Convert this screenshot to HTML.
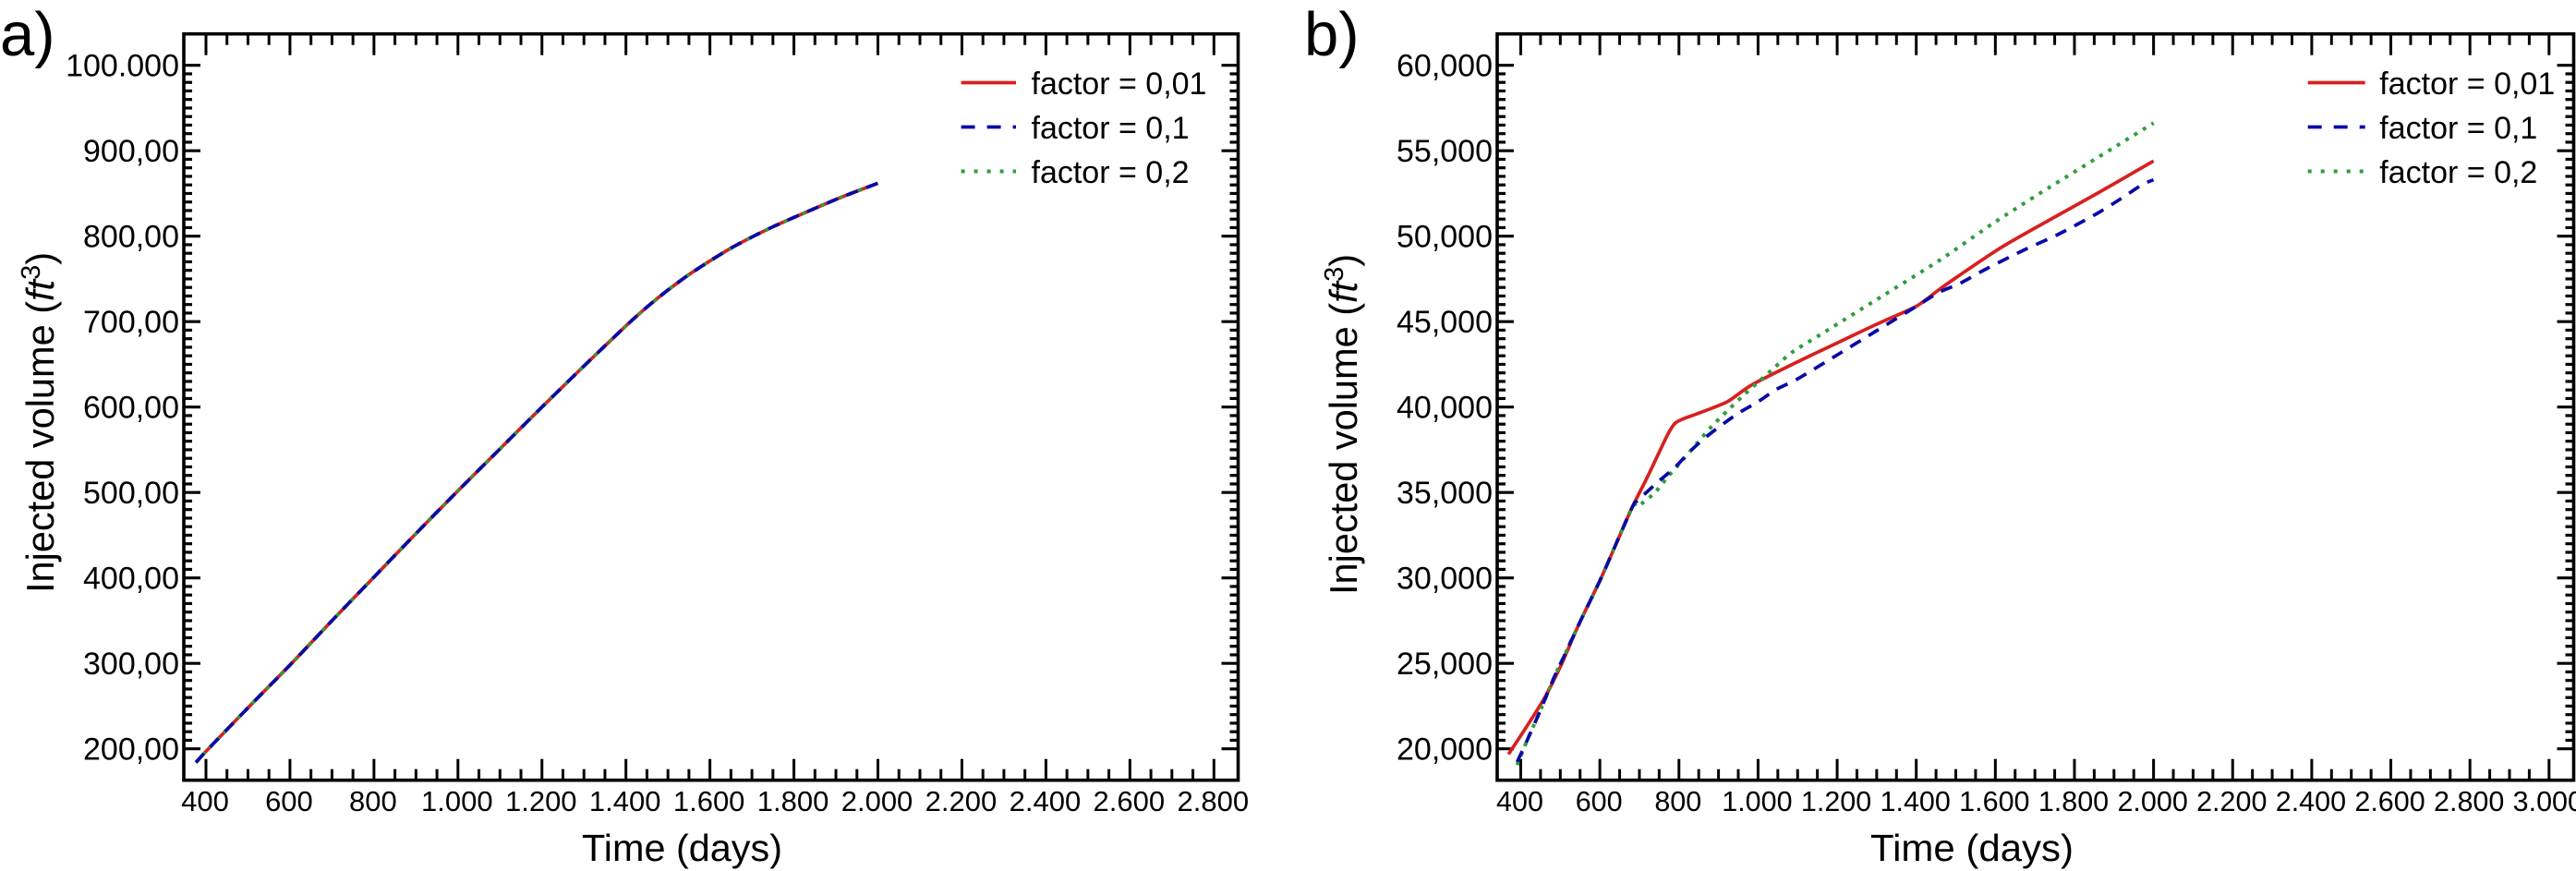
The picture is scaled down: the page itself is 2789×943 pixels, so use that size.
<!DOCTYPE html>
<html lang="en">
<head>
<meta charset="utf-8">
<title>Injected volume vs time</title>
<style>
html,body{margin:0;padding:0;background:#fff;width:2789px;height:943px;overflow:hidden}
svg{display:block}
text{font-family:"Liberation Sans",Arial,sans-serif;fill:#000}
</style>
</head>
<body>
<svg id="figure" xmlns="http://www.w3.org/2000/svg" width="2789" height="943" viewBox="0 0 2789 943"></svg>
<script>
// ---- shared axis data
const seriesNames = ["factor = 0,01", "factor = 0,1", "factor = 0,2"];
const xTickValuesA = [400,600,800,1000,1200,1400,1600,1800,2000,2200,2400,2600,2800];
const xTickLabelsA = ["400","600","800","1.000","1.200","1.400","1.600","1.800","2.000","2.200","2.400","2.600","2.800"];
const yTickValuesA = [200,300,400,500,600,700,800,900,1000];
const yTickLabelsA = ["200,00","300,00","400,00","500,00","600,00","700,00","800,00","900,00","100.000"];
const xTickValuesB = [400,600,800,1000,1200,1400,1600,1800,2000,2200,2400,2600,2800,3000];
const xTickLabelsB = ["400","600","800","1.000","1.200","1.400","1.600","1.800","2.000","2.200","2.400","2.600","2.800","3.000"];
const yTickValuesB = [20000,25000,30000,35000,40000,45000,50000,55000,60000];
const yTickLabelsB = ["20,000","25,000","30,000","35,000","40,000","45,000","50,000","55,000","60,000"];

// ---- panel a values (the three factors overlap)
const timeA = [376,400,500,600,700,800,900,1000,1100,1200,1300,1400,1450,1500,1550,1600,1650,1700,1750,1800,1900,2000];
const volumeA001 = [184,197,248,298,350,401,452,502,551,600,648,695,717,737,755,771,786,799,811,822,843,862];
const volumeA01 = [184,197,248,298,350,401,452,502,551,600,648,695,717,737,755,771,786,799,811,822,843,862];
const volumeA02 = [184,197,248,298,350,401,452,502,551,600,648,695,717,737,755,771,786,799,811,822,843,862];

// ---- panel b values
const timeB001 = [369,420,463,502,548,595,611,681,720,770,790,815,844,922,984,1109,1200,1300,1400,1459,1500,1626,1855,2000];
const volumeB001 = [19680,21480,23100,24900,27340,29590,30400,34090,35890,38320,39050,39350,39590,40310,41300,42750,43750,44850,45900,46900,47560,49500,52470,54400];
const timeB01 = [391,416,447,486,505,548,595,611,681,696,747,790,829,868,914,953,1000,1046,1101,1200,1300,1400,1459,1511,1574,1668,1761,1855,1918,1970,2000];
const volumeB01 = [19230,20490,22110,24270,25200,27340,29590,30400,34090,34540,35620,36470,37430,38240,39050,39680,40310,41030,41660,43050,44470,45890,46730,47240,48050,49140,50130,51300,52200,53000,53300];
const timeB02 = [391,416,447,486,505,548,595,611,681,696,739,774,811,847,883,922,961,1002,1043,1085,1150,1300,1459,1598,1735,2000];
const volumeB02 = [19050,20490,22110,24270,25200,27340,29590,30400,34090,34180,34990,35980,36940,37920,38870,39770,40630,41500,42340,43190,44130,46290,48590,50810,52830,56620];

const svgNS = "http://www.w3.org/2000/svg";
const root = document.getElementById("figure");
const RED = "#d8201f", BLUE = "#0a0aa6", GREEN = "#2f9e3a";

function mk(tag, attrs, parent) {
  const el = document.createElementNS(svgNS, tag);
  for (const k in attrs) el.setAttribute(k, attrs[k]);
  parent.appendChild(el);
  return el;
}

// smooth curve through the scaled data points
function smoothPath(pts) {
  let d = "M" + pts[0][0].toFixed(1) + " " + pts[0][1].toFixed(1);
  for (let i = 0; i < pts.length - 1; i++) {
    const p0 = pts[Math.max(0, i - 1)], p1 = pts[i], p2 = pts[i + 1], p3 = pts[Math.min(pts.length - 1, i + 2)];
    const c1x = p1[0] + (p2[0] - p0[0]) / 8, c1y = p1[1] + (p2[1] - p0[1]) / 8;
    const c2x = p2[0] - (p3[0] - p1[0]) / 8, c2y = p2[1] - (p3[1] - p1[1]) / 8;
    d += " C" + c1x.toFixed(1) + " " + c1y.toFixed(1) + " " + c2x.toFixed(1) + " " + c2y.toFixed(1) + " " + p2[0].toFixed(1) + " " + p2[1].toFixed(1);
  }
  return d;
}

function drawPanel(p) {
  const g = mk("g", {}, root);
  
  

  const x = v => p.x400 + (v - 400) * p.xk;
  const y = v => p.yBase - (v - p.yMin) * p.yk;

  // frame
  const frame = mk("rect", {x:p.left, y:p.top, width:p.right-p.left, height:p.bottom-p.top, fill:"none", stroke:"#000", "stroke-width":3.6}, g);
  
  

  // x ticks
  const xAxis = mk("g", {stroke:"#000", "stroke-width":3}, g);
  
  
  p.xVals.forEach((v, i) => {
    [0,1].forEach(side => {
      const y0 = side ? p.top : p.bottom, d = side ? 1 : -1;
      mk("line", {x1:x(v), x2:x(v), y1:y0, y2:y0 + d*23}, xAxis);
      if (i < p.xVals.length - 1) {
        const st = (p.xVals[i+1] - v) / 4;
        for (let m = 1; m < 4; m++) mk("line", {x1:x(v+m*st), x2:x(v+m*st), y1:y0, y2:y0 + d*12}, xAxis);
      }
    });
    const t = mk("text", {x:x(v)-1, y:878, "font-size":p.xFont, "text-anchor":"middle"}, g);
    t.textContent = p.xLabels[i];
    
    
  });

  // y ticks
  const yAxis = mk("g", {stroke:"#000", "stroke-width":3.2}, g);
  
  
  p.yVals.forEach((v, i) => {
    [0,1].forEach(side => {
      const x0 = side ? p.right : p.left, d = side ? -1 : 1;
      mk("line", {x1:x0, x2:x0 + d*18, y1:y(v), y2:y(v)}, yAxis);
      if (i < p.yVals.length - 1) {
        const st = (p.yVals[i+1] - v) / 10;
        for (let m = 1; m < 10; m++) mk("line", {x1:x0, x2:x0 + d*9, y1:y(v+m*st), y2:y(v+m*st)}, yAxis);
      }
    });
    const t = mk("text", {x:p.left-5, y:y(v)+12, "font-size":34, "text-anchor":"end"}, g);
    t.textContent = p.yLabels[i];
    
    
  });

  // series
  const styles = {
    "factor-0-01": {c:RED, dash:"none", w:3.7},
    "factor-0-1": {c:BLUE, dash:"13 10", w:3.7},
    "factor-0-2": {c:GREEN, dash:"4 7", w:4}
  };
  [0,2,1].forEach(i => {
    const s = p.series[i];
    const sty = styles[s.key];
    const pts = s.t.map((tv, k) => [x(tv), y(s.v[k])]);
    const line = mk("path", {d:smoothPath(pts), fill:"none", stroke:sty.c, "stroke-width":sty.w, "stroke-dasharray":sty.dash, "stroke-linejoin":"round"}, g);
    
    
  });

  // legend
  const legend = mk("g", {}, g);
  
  
  const legY = [89.5, 137.5, 185.5];
  const legStyle = [{c:RED,d:"none",w:3.7},{c:BLUE,d:"15 13",w:3.7},{c:GREEN,d:"4 10",w:4}];
  seriesNames.forEach((name, i) => {
    const key = mk("line", {x1:p.legX0, x2:p.legX1, y1:legY[i], y2:legY[i], stroke:legStyle[i].c, "stroke-width":legStyle[i].w, "stroke-dasharray":legStyle[i].d}, legend);
    
    
    const t = mk("text", {x:p.legText, y:legY[i]+12.5, "font-size":34}, legend);
    t.textContent = name;
    
    
  });

  // axis titles
  const xt = mk("text", {x:p.xTitleX, y:932, "font-size":41, textLength:p.xTitleW, lengthAdjust:"spacingAndGlyphs"}, g);
  xt.textContent = "Time (days)";
  
  

  const yt = mk("text", {transform:"translate(" + p.yTitleX + "," + p.yTitleY + ") rotate(-90)", "font-size":41.5}, g);
  
  
  mk("tspan", {}, yt).textContent = "Injected volume (";
  mk("tspan", {"font-style":"italic"}, yt).textContent = "ft";
  mk("tspan", {"font-size":29, dy:-15}, yt).textContent = "3";
  mk("tspan", {dy:15}, yt).textContent = ")";

  // panel letter
  const pl = mk("text", {x:p.letterX, y:60, "font-size":67}, g);
  pl.textContent = p.letter;
  
  
}

drawPanel({
  id:"panel-a", letter:"a)", letterX:0,
  left:199, right:1340.5, top:36.7, bottom:844.7,
  x400:223, xk:0.4547, yBase:810.7, yMin:200, yk:0.925,
  xVals:xTickValuesA, xLabels:xTickLabelsA, yVals:yTickValuesA, yLabels:yTickLabelsA, xFont:31,
  series:[{key:"factor-0-01",t:timeA,v:volumeA001},{key:"factor-0-1",t:timeA,v:volumeA01},{key:"factor-0-2",t:timeA,v:volumeA02}],
  legX0:1040.6, legX1:1100, legText:1116.5,
  xTitleX:630, xTitleW:217, yTitleX:58, yTitleY:642
});

drawPanel({
  id:"panel-b", letter:"b)", letterX:1412,
  left:1621, right:2786.5, top:36.7, bottom:844.7,
  x400:1646.5, xk:0.4282, yBase:810.7, yMin:20000, yk:0.0185,
  xVals:xTickValuesB, xLabels:xTickLabelsB, yVals:yTickValuesB, yLabels:yTickLabelsB, xFont:30.5,
  series:[{key:"factor-0-01",t:timeB001,v:volumeB001},{key:"factor-0-1",t:timeB01,v:volumeB01},{key:"factor-0-2",t:timeB02,v:volumeB02}],
  legX0:2498.7, legX1:2560.7, legText:2576.3,
  xTitleX:2025, xTitleW:220, yTitleX:1469, yTitleY:644
});
</script>
</body>
</html>
